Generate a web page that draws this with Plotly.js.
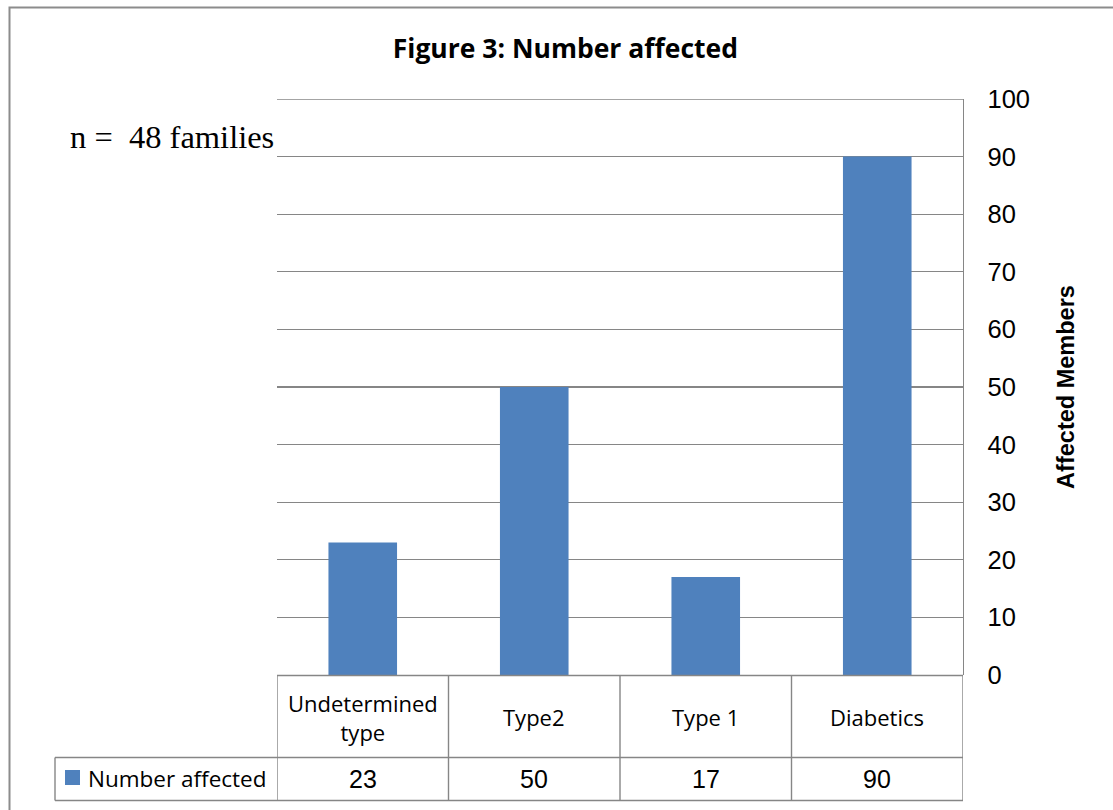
<!DOCTYPE html>
<html>
<head>
<meta charset="utf-8">
<script src="https://cdn.plot.ly/plotly-3.0.1.min.js"></script>
<style>html,body{margin:0;padding:0;background:#fff;}#chart{width:1113px;height:810px;}</style>
</head>
<body>
<div id="chart"></div>
<script>
// ---- data ----
const categories = ['Undetermined type', 'Type2', 'Type 1', 'Diabetics'];
const categoryLabels = ['Undetermined<br>type', 'Type2', 'Type 1', 'Diabetics'];
const seriesName = 'Number affected';
const values = [23, 50, 17, 90];
const yTicks = [0, 10, 20, 30, 40, 50, 60, 70, 80, 90, 100];

// ---- layout helpers (pixel -> paper) ----
const W = 1113, H = 810;
const M = {l: 277, r: 150, t: 99, b: 135};
const PW = W - M.l - M.r, PH = H - M.t - M.b;
const px = x => (x - M.l) / PW;
const py = y => (H - M.b - y) / PH;

const gridColor = '#868686';
const barColor = '#4F81BD';

const shapes = [];
const line = (xref, x0, x1, yref, y0, y1, w) => shapes.push({
  type: 'line', xref: xref, yref: yref, x0: x0, x1: x1, y0: y0, y1: y1,
  line: {color: gridColor, width: w || 1.4}
});

// outer chart border
shapes.push({type: 'rect', xref: 'paper', yref: 'paper',
  x0: px(9.5), x1: px(1125), y0: py(7.5), y1: py(830),
  line: {color: '#8c8c8c', width: 2}, fillcolor: 'rgba(0,0,0,0)'});

// top gridline at the max tick
line('paper', 0, 1, 'y', yTicks[yTicks.length - 1], yTicks[yTicks.length - 1]);

// data table horizontal lines
line('x', -0.5, categories.length - 0.5, 'paper', py(675.5), py(675.5));
line('paper', px(55), 1, 'paper', py(757.5), py(757.5));
line('paper', px(55), 1, 'paper', py(800.5), py(800.5));
// vertical lines of table
for (let i = 0; i <= categories.length; i++) {
  line('x', i - 0.5, i - 0.5, 'paper', py(675.5), py(800.5));
}
line('paper', px(55), px(55), 'paper', py(757.5), py(800.5));
// legend key square
shapes.push({type: 'rect', xref: 'paper', yref: 'paper',
  x0: px(65), x1: px(80), y0: py(785), y1: py(770),
  line: {width: 0}, fillcolor: barColor});

const annotations = [];
categories.forEach((c, i) => {
  annotations.push({xref: 'x', yref: 'paper', x: c, y: py(717),
    text: categoryLabels[i], showarrow: false, xanchor: 'center', yanchor: 'middle',
    font: {family: 'Open Sans, Noto Sans, sans-serif', size: 22, color: '#000'}});
  annotations.push({xref: 'x', yref: 'paper', x: c, y: py(779),
    text: String(values[i]), showarrow: false, xanchor: 'center', yanchor: 'middle',
    font: {family: 'Liberation Sans, Arial, sans-serif', size: 25, color: '#000'}});
});
annotations.push({xref: 'paper', yref: 'paper', x: px(86), y: py(778),
  text: seriesName, showarrow: false, xanchor: 'left', yanchor: 'middle',
  font: {family: 'Open Sans, Noto Sans, sans-serif', size: 22.5, color: '#000'}});
annotations.push({xref: 'paper', yref: 'paper', x: px(68), y: py(137),
  text: 'n =  48 families', showarrow: false, xanchor: 'left', yanchor: 'middle',
  font: {family: 'Liberation Serif, Times New Roman, serif', size: 32.5, color: '#000'}});

const trace = {
  type: 'bar', x: categories, y: values, name: seriesName,
  width: 0.4, marker: {color: barColor, line: {width: 0}},
  hoverinfo: 'none'
};

const layout = {
  width: W, height: H,
  margin: M,
  paper_bgcolor: '#fff', plot_bgcolor: '#fff',
  showlegend: false,
  title: {text: '<b>Figure 3: Number affected</b>', x: 0.508, xanchor: 'center', y: 0.94, yanchor: 'middle',
    font: {family: 'Open Sans, Noto Sans, sans-serif', size: 26.5, color: '#000'}},
  xaxis: {type: 'category', range: [-0.5, categories.length - 0.5], showticklabels: false,
    showgrid: false, zeroline: false, showline: false, ticks: ''},
  yaxis: {side: 'right', range: [0, 100], tickvals: yTicks, ticktext: yTicks.map(String),
    showgrid: true, gridcolor: gridColor, gridwidth: 1.4, zeroline: false,
    showline: true, linecolor: gridColor, linewidth: 1.4,
    ticks: 'outside', ticklen: 18, tickcolor: 'rgba(0,0,0,0)',
    tickfont: {family: 'Liberation Sans, Arial, sans-serif', size: 25.5, color: '#000'},
    title: {text: '<b>Affected Members</b>', standoff: 28,
      font: {family: 'Liberation Sans, Arial, sans-serif', size: 23.5, color: '#000'}}},
  shapes: shapes,
  annotations: annotations
};

Plotly.newPlot('chart', [trace], layout, {displayModeBar: false, staticPlot: true});
</script>
</body>
</html>
